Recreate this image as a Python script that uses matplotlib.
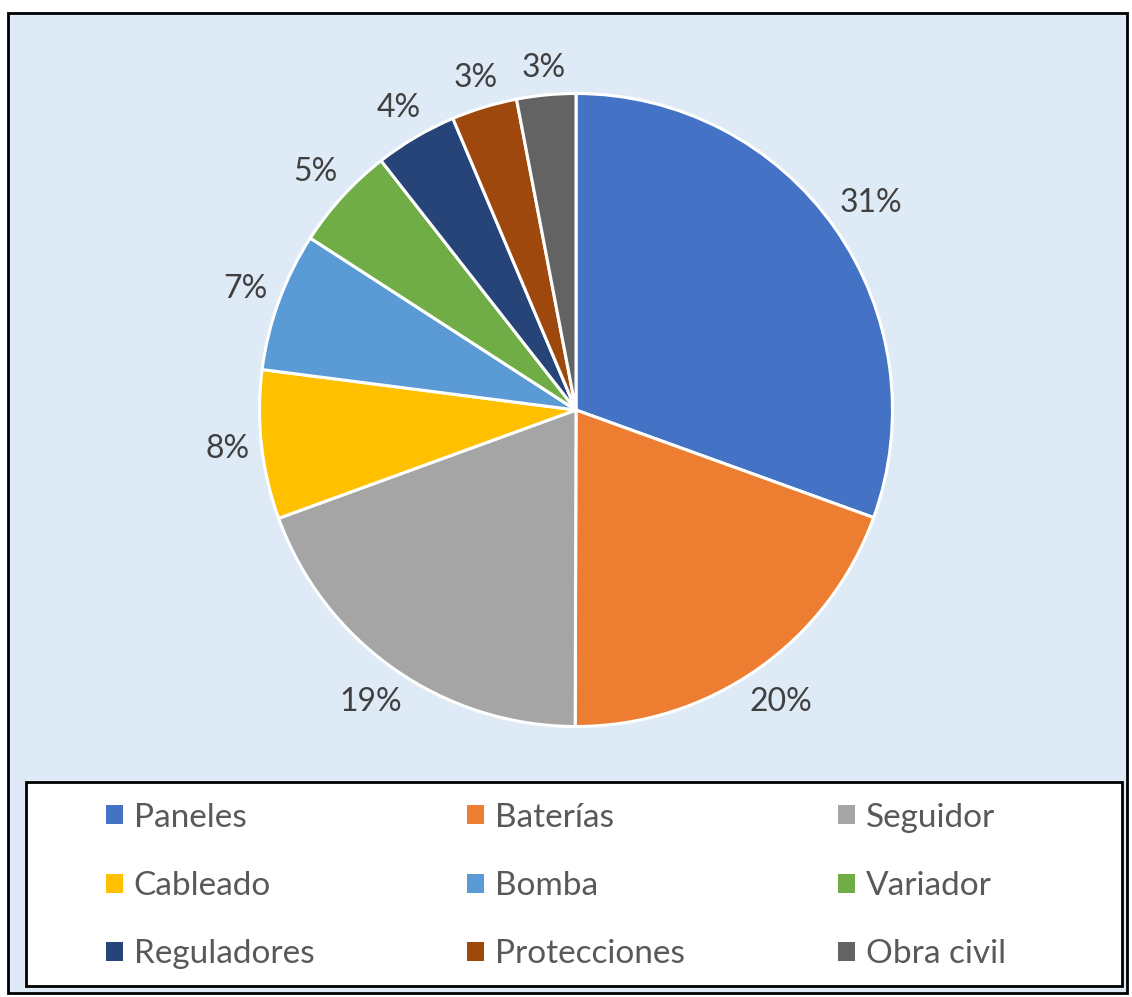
import numpy as np
import matplotlib.pyplot as plt
from matplotlib.patches import Rectangle

plt.rcParams['font.family'] = ['Lato', 'DejaVu Sans']

categories = ['Paneles', 'Baterías', 'Seguidor', 'Cableado', 'Bomba',
              'Variador', 'Reguladores', 'Protecciones', 'Obra civil']
# shares (labels show them rounded)
shares = [30.52, 19.52, 19.4, 7.6, 7.1, 5.3, 4.2, 3.35, 3.01]
colors = ['#4472C4', '#ED7D31', '#A5A5A5', '#FFC000', '#5B9BD5',
          '#70AD47', '#264478', '#9E480E', '#636363']

W, H = 1132, 997
fig = plt.figure(figsize=(W / 100, H / 100), dpi=100)
fig.patch.set_facecolor('white')

# chart area background with black border
fig.patches.append(Rectangle((8 / W, 1 - 993 / H), 1119 / W, 980 / H,
                             transform=fig.transFigure, facecolor='#DEEAF6',
                             edgecolor='black', linewidth=2, zorder=-10))
# legend box
fig.patches.append(Rectangle((26 / W, 1 - 986 / H), 1096 / W, 204 / H,
                             transform=fig.transFigure, facecolor='white',
                             edgecolor='black', linewidth=2, zorder=-5))

# pie axes: centre (576, 410), radius ~316 px, limits +-1.25
R = 316.5
half = R * 1.25
ax = fig.add_axes([(576 - half) / W, 1 - (410 + half) / H, 2 * half / W, 2 * half / H])
ax.set_zorder(2)
wedges, texts, autotexts = ax.pie(
    shares, colors=colors, startangle=90, counterclock=False,
    autopct='%1.0f%%', pctdistance=1.12,
    wedgeprops=dict(edgecolor='white', linewidth=2.2),
    textprops=dict(fontsize=23, color='#404040'))
ax.set_xlim(-1.25, 1.25)
ax.set_ylim(-1.25, 1.25)

# push each label out so its box sits a small gap outside the pie edge
renderer = fig.canvas.get_renderer()
gap = 10
for w, t in zip(wedges, autotexts):
    th = np.deg2rad((w.theta1 + w.theta2) / 2)
    bb = t.get_window_extent(renderer)
    ext = bb.width / 2 * abs(np.cos(th)) + bb.height / 2 * abs(np.sin(th))
    d = (R + gap + ext) / R
    t.set_position((d * np.cos(th), d * np.sin(th)))

order = [0, 3, 6, 1, 4, 7, 2, 5, 8]
leg = fig.legend([wedges[i] for i in order], [categories[i] for i in order],
                 ncol=3, loc='center', bbox_to_anchor=(556 / W, 1 - 886 / H),
                 frameon=False, fontsize=24, labelspacing=1.15,
                 handlelength=0.5, handleheight=0.5, handletextpad=0.33,
                 columnspacing=4.6)
leg.set_zorder(3)
for t in leg.get_texts():
    t.set_color('#595959')
for h in leg.legend_handles:
    h.set_edgecolor('none')

fig.savefig('out.png', dpi=100)
